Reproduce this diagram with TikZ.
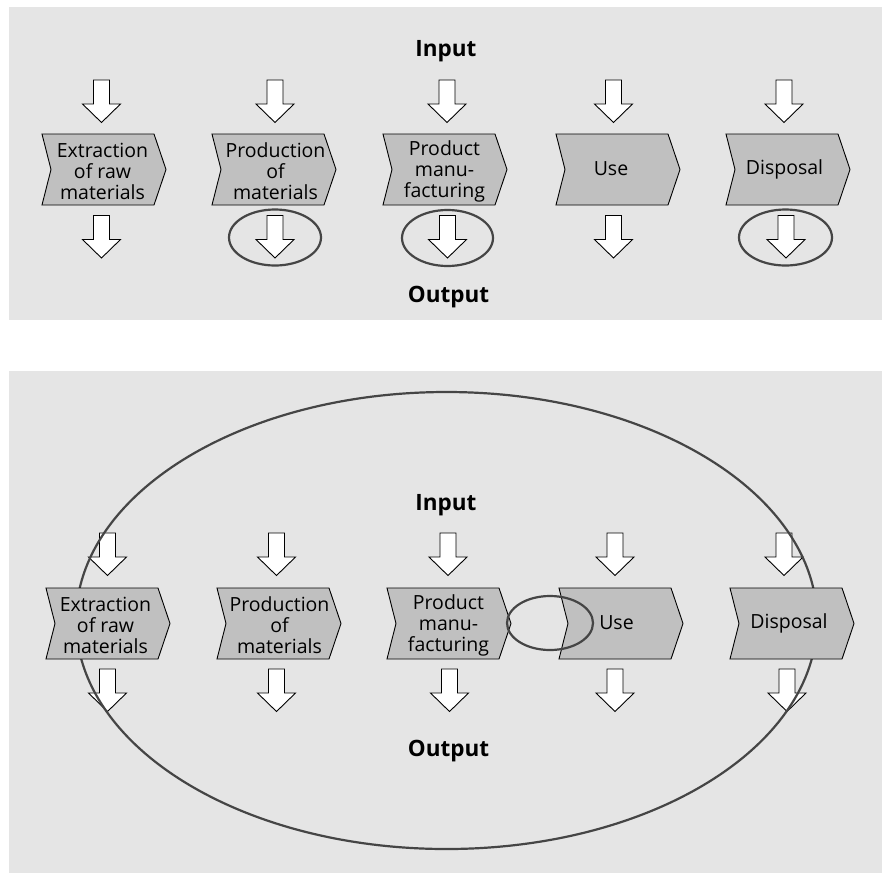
\documentclass[tikz,border=0pt]{standalone}
\usepackage{fontspec}
\setmainfont{Open Sans}
\definecolor{bgc}{HTML}{E5E5E5}
\definecolor{chevc}{HTML}{C0C0C0}
\definecolor{ringc}{HTML}{454545}
\tikzset{
  panel/.style={fill=bgc, draw=none},
  chevbox/.style={draw=black, line width=0.9pt, fill=chevc, line join=miter},
  blockarrow/.style={draw=black, line width=0.9pt, fill=white, line join=miter},
  ring/.style={draw=ringc, line width=2.2pt},
  lbl/.style={font=\fontsize{19.5}{21}\selectfont, align=center, inner sep=0pt},
  headlbl/.style={font=\fontsize{22.5}{26}\selectfont\bfseries, inner sep=0pt, anchor=base}
}
\newcommand\mychev[2]{%
  \draw[chevbox] (#1,#2) -- ++(112,0) -- ++(12,35.5) -- ++(-12,35.5) -- ++(-112,0) -- ++(9,-35.5) -- cycle;}
\newcommand\myarrow[2]{%
  \draw[blockarrow] (#1,#2) ++(-8,0) -- ++(16,0) -- ++(0,24) -- ++(11,0) -- ++(-19,18.5) -- ++(-19,-18.5) -- ++(11,0) -- cycle;}
\begin{document}
\begin{tikzpicture}[x=1pt,y=-1pt]
\useasboundingbox (0,0) rectangle (882,873);
% ---------- top panel ----------
\fill[panel] (9,7) rectangle (882,320);
\node[headlbl] (in1) at (446,56) {Input};
\node[headlbl] (out1) at (448.5,302) {Output};
\foreach \x in {101.5,275,447,613.5,784}{\myarrow{\x}{80}}
\foreach \x in {101.5,275,447.5,613.5,786}{\myarrow{\x}{215.5}}
\foreach \l in {42,212,383,556,726}{\mychev{\l}{134}}
\node[lbl] (a1) at (102.5,171) {Extraction\\of raw\\materials};
\node[lbl] (b1) at (275.5,171) {Production\\of\\materials};
\node[lbl] (c1) at (444.5,171) {Product\\manu-\\facturing};
\node[lbl] (d1) at (611,169) {Use};
\node[lbl] (e1) at (784.5,169) {Disposal};
\draw[ring] (275,237.5) ellipse [x radius=46, y radius=28];
\draw[ring] (447.5,238) ellipse [x radius=45.5, y radius=28];
\draw[ring] (785.5,237.5) ellipse [x radius=46.5, y radius=28];
% ---------- bottom panel ----------
\fill[panel] (9,371) rectangle (882,873);
\node[headlbl] (in2) at (446,510) {Input};
\node[headlbl] (out2) at (448.5,756) {Output};
\foreach \x in {107.5,276.5,448,615,784}{\myarrow{\x}{533}}
\foreach \x in {107.5,276.5,449.5,615,787}{\myarrow{\x}{669}}
\draw[ring] (446.5,620.5) ellipse [x radius=370.5, y radius=228.5];
\foreach \l in {46,217,387,559,730}{\mychev{\l}{588}}
\node[lbl] (a2) at (105.5,625) {Extraction\\of raw\\materials};
\node[lbl] (b2) at (279.5,625) {Production\\of\\materials};
\node[lbl] (c2) at (448.5,625) {Product\\manu-\\facturing};
\node[lbl] (d2) at (616.5,623) {Use};
\node[lbl] (e2) at (789,623) {Disposal};
\draw[ring] (550,623) ellipse [x radius=43, y radius=27];
\end{tikzpicture}
\end{document}
